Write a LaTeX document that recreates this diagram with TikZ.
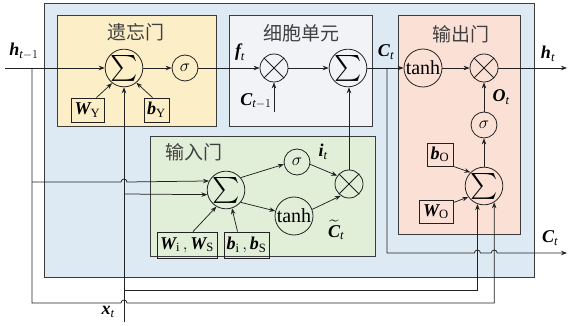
\documentclass[tikz,border=0pt]{standalone}
\usepackage{amsmath}
\usepackage{graphicx}
\usepackage{fontspec}
\setmainfont{Liberation Serif}
\newfontfamily\cjk{Noto Sans CJK SC}
\usetikzlibrary{arrows.meta,calc}
\definecolor{bgblue}{HTML}{DDEAF4}
\definecolor{bgyellow}{HTML}{FCEFC8}
\definecolor{bggray}{HTML}{F1F3F6}
\definecolor{bggreen}{HTML}{E1EED8}
\definecolor{bgpeach}{HTML}{FBE1D5}
\definecolor{ink}{HTML}{222222}
\definecolor{frame}{HTML}{3C3C3C}
\newcommand{\bvar}[1]{\text{\bfseries\itshape #1}}
\newcommand{\tvar}{\text{\itshape t}}
\newcommand{\bigsum}{\scalebox{1.5}{$\sum$}}
\tikzset{
  wire/.style={draw=ink, line width=0.75pt},
  arr/.style={wire, -{Stealth[length=6pt,width=4.5pt]}},
  op/.style={circle, draw=ink, line width=0.8pt, inner sep=0pt, font=\fontsize{18}{18}\selectfont},
  mul/.style={op, path picture={\draw[ink, line width=0.8pt]
      (path picture bounding box.north west) -- (path picture bounding box.south east)
      (path picture bounding box.north east) -- (path picture bounding box.south west);}},
  pbox/.style={draw=ink, line width=0.9pt, inner sep=0pt, font=\fontsize{18}{18}\selectfont},
  region/.style={draw=frame, line width=1pt},
  gtitle/.style={font=\cjk\fontsize{19}{19}\selectfont, text=black!75},
  lbl/.style={font=\fontsize{18}{18}\selectfont, inner sep=0pt},
  th/.style={font=\fontsize{20}{20}\selectfont}
}
\begin{document}
\begin{tikzpicture}[x=1pt,y=1pt]
\useasboundingbox (0,0) rectangle (568,-326);
% regions
\draw[region, fill=bgblue] (44,-4) rectangle (534,-277);
\draw[region, fill=bgyellow] (57,-16) rectangle (216,-127);
\draw[region, fill=bggray] (229,-16) rectangle (372,-127);
\draw[region, fill=bgpeach] (398,-16) rectangle (520,-234);
\draw[region, fill=bggreen] (150,-137) rectangle (375,-256);
% titles
\node[gtitle] (tY) at (136,-32) {遗忘门};
\node[gtitle] (tC) at (301,-33) {细胞单元};
\node[gtitle] (tO) at (461,-34) {输出门};
\node[gtitle] (tI) at (194,-152) {输入门};
% forget gate
\node[op, minimum size=34pt] (SY) at (124,-68) {\bigsum};
\node[op, minimum size=26pt] (sigY) at (185,-68) {$\sigma$};
\node[pbox, minimum width=33pt, minimum height=24pt] (WY) at (87.5,-110) {$\bvar{W}_{\mathrm{Y}}$};
\node[pbox, minimum width=25pt, minimum height=24pt] (bY) at (156.5,-110) {$\bvar{b}_{\mathrm{Y}}$};
% cell
\node[mul, minimum size=28pt] (mulC) at (274,-68) {};
\node[op, minimum size=32pt] (SC) at (348,-68) {\bigsum};
% output gate
\node[op, th, minimum size=38pt] (tanhO) at (423,-68) {tanh};
\node[mul, minimum size=28pt] (mulO) at (484,-68) {};
\node[op, minimum size=26pt] (sigO) at (484,-125) {$\sigma$};
\node[op, minimum size=34pt] (SO) at (484,-186) {\bigsum};
\node[pbox, minimum width=26pt, minimum height=23pt] (bO) at (440,-154.5) {$\bvar{b}_{\mathrm{O}}$};
\node[pbox, minimum width=34pt, minimum height=23pt] (WO) at (436,-211.5) {$\bvar{W}_{\mathrm{O}}$};
% input gate
\node[op, minimum size=34pt] (SI) at (226,-190) {\bigsum};
\node[op, minimum size=26pt] (sigI) at (297,-162) {$\sigma$};
\node[op, th, minimum size=38pt] (tanhI) at (294,-216) {tanh};
\node[mul, minimum size=28pt] (mulI) at (349,-184) {};
\node[pbox, minimum width=60pt, minimum height=26pt] (WI) at (187,-245) {$\bvar{W}_{\mathrm{i}}\,,\bvar{W}_{\mathrm{S}}$};
\node[pbox, minimum width=45pt, minimum height=26pt] (bI) at (246.5,-245) {$\bvar{b}_{\mathrm{i}}\,,\bvar{b}_{\mathrm{S}}$};
% labels
\node[lbl] (lh1) at (24,-51) {$\bvar{h}_{\tvar-1}$};
\node[lbl] (lf) at (240,-52) {$\bvar{f}_{\tvar}$};
\node[lbl] (lcp) at (256,-101) {$\bvar{C}_{\tvar-1}$};
\node[lbl] (lct) at (386,-52) {$\bvar{C}_{\tvar}$};
\node[lbl] (lht) at (548,-54) {$\bvar{h}_{\tvar}$};
\node[lbl] (lot) at (501,-97) {$\bvar{O}_{\tvar}$};
\node[lbl] (lit) at (323,-152) {$\bvar{i}_{\tvar}$};
\node[lbl] (lctil) at (336,-230) {$\widetilde{\bvar{C}}_{\tvar}$};
\node[lbl] (lct2) at (550,-238) {$\bvar{C}_{\tvar}$};
\node[lbl] (lxt) at (108,-312) {$\bvar{x}_{\tvar}$};
% coordinates
\coordinate (hin) at (5,-68);
\coordinate (hj) at (32,-68);
\coordinate (hb) at (32,-303);
\coordinate (hi) at (32,-182);
\coordinate (xin) at (124,-322);
\coordinate (xi) at (124,-194);
\coordinate (xb) at (124,-290);
\coordinate (cj) at (387,-68);
\coordinate (cb) at (387,-253);
\coordinate (cout) at (567,-253);
\coordinate (hout) at (567,-68);
\coordinate (cprev) at (274,-112);
% main line
\draw[arr] (hin) -- (SY);
\draw[arr] (SY) -- (sigY);
\draw[arr] (sigY) -- (mulC);
\draw[arr] (mulC) -- (SC);
\draw[arr] (SC) -- (tanhO);
\draw[arr] (tanhO) -- (mulO);
\draw[arr] (mulO) -- (hout);
\draw[arr] (cprev) -- (mulC);
% forget inputs
\draw[arr] ($(WY.north)+(9,0)$) -- (SY.232);
\draw[arr] ($(bY.north)+(-4,0)$) -- (SY.310);
\draw[arr] (xin) -- (SY);
% h routing
\draw[arr] (hj) -- (hb) -- (121,-303) arc[start angle=180,end angle=0,radius=3] -- (SO.302 |- hb) -- (SO.302);
\draw[arr] (hi) -- (121,-182) arc[start angle=180,end angle=0,radius=3] -- (SI.152);
\draw[arr] (xi) -- (SI.194);
\draw[arr] (xb) -- (SO.250 |- xb) -- (SO.250);
% C_t branch
\draw[arr] (cj) -- (cb) -- ($(SO.250 |- cb)+(-3,0)$) arc[start angle=180,end angle=0,radius=3]
  -- ($(SO.302 |- cb)+(-3,0)$) arc[start angle=180,end angle=0,radius=3] -- (cout);
% input gate
\draw[arr] ($(WI.north)+(6,0)$) -- (SI.240);
\draw[arr] ($(bI.north)+(-9,0)$) -- (SI.288);
\draw[arr] (SI.40) -- (sigI.190);
\draw[arr] (SI.-40) -- (tanhI.165);
\draw[arr] (sigI.-10) -- (mulI.145);
\draw[arr] (tanhI.20) -- (mulI.235);
\draw[arr] (mulI.north) -- (mulI.north |- SC.south);
% output gate
\draw[arr] (SO) -- (sigO);
\draw[arr] (sigO) -- (mulO);
\draw[arr] (bO.south east) -- (SO.135);
\draw[arr] ($(WO.north east)+(0,-3)$) -- (SO.215);
\end{tikzpicture}
\end{document}
